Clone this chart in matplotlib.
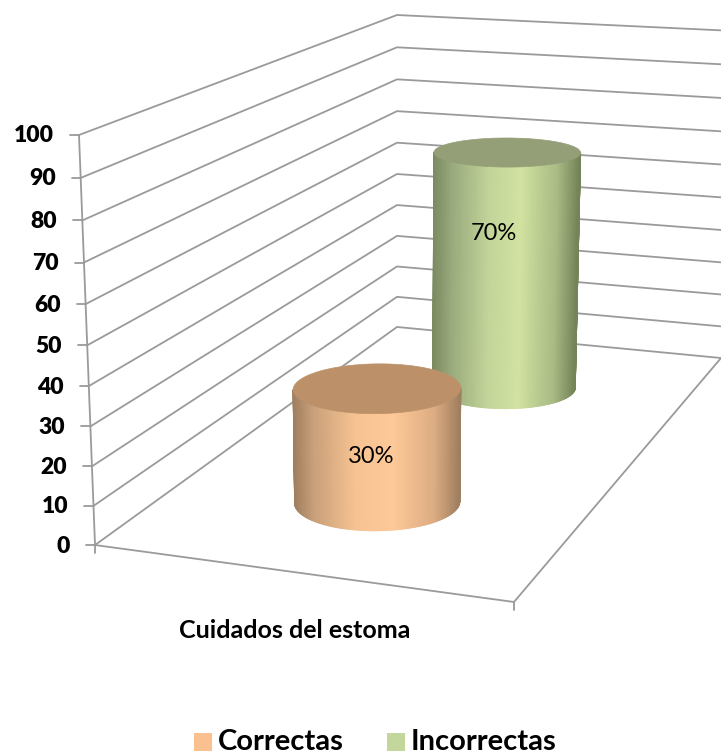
import numpy as np
import matplotlib
matplotlib.use("Agg")
import matplotlib.pyplot as plt
from matplotlib.collections import PolyCollection
from matplotlib.colors import LinearSegmentedColormap
from matplotlib.patches import Polygon, Rectangle

# Chart values
category = "Cuidados del estoma"
series_names = ["Correctas", "Incorrectas"]
series_values = [30, 70]
value_labels = ["30%", "70%"]
axis_ticks = [0, 10, 20, 30, 40, 50, 60, 70, 80, 90, 100]

# Scene layout: box corners (width u, depth v, height w) and their place on the canvas
W, H = 721, 755
box_corners = np.array([
    [0, 0, 0], [1, 0, 0], [0, 1, 0], [1, 1, 0],
    [0, 0, 1], [0, 1, 1],
], float)
canvas_corners = np.array([
    [95, 545], [514, 602], [397, 327], [721, 358],
    [79, 135], [397, 15],
], float)


def fit_camera(world, image):
    """Least-squares projective camera from world/image correspondences."""
    rows, rhs = [], []
    for (x, y, z), (px, py) in zip(world, image):
        rows.append([x, y, z, 1, 0, 0, 0, 0, -px * x, -px * y, -px * z])
        rhs.append(px)
        rows.append([0, 0, 0, 0, x, y, z, 1, -py * x, -py * y, -py * z])
        rhs.append(py)
    sol = np.linalg.lstsq(np.array(rows), np.array(rhs), rcond=None)[0]
    return np.append(sol, 1.0).reshape(3, 4)


camera = fit_camera(box_corners, canvas_corners)
axis_max = max(axis_ticks)


def project(u, v, value):
    """Map box width/depth and a data value to canvas coordinates."""
    u, v, value = np.broadcast_arrays(u, v, value)
    pts = np.stack([u, v, value / axis_max, np.ones(u.shape)])
    x, y, s = camera @ pts
    return x / s, y / s


# Cylinder placement and shading
centers_uv = [(0.5, 0.25), (0.497, 0.755)]
radius_u, radius_v = 0.197, 0.102
label_height = [0.40, 0.66]
label_shift = [-6, -12]
grid_color = "#9a9a9a"
shade_maps = [
    LinearSegmentedColormap.from_list("orange_body", [
        (0.0, "#9f7e5f"), (0.12, "#c9a07a"), (0.38, "#f8c392"),
        (0.6, "#fec998"), (0.85, "#dcac82"), (1.0, "#9f7f60")]),
    LinearSegmentedColormap.from_list("green_body", [
        (0.0, "#7b8a60"), (0.12, "#98a97c"), (0.38, "#c2d498"),
        (0.6, "#d1e2a1"), (0.85, "#a9ba84"), (1.0, "#748358")]),
]
cap_colors = ["#bc9169", "#949f78"]
swatch_colors = ["#fac090", "#c3d69b"]

plt.rcParams["font.family"] = ["Lato", "DejaVu Sans"]
fig = plt.figure(figsize=(W / 100, H / 100), dpi=100)
ax = fig.add_axes([0, 0, 1, 1])
ax.set_xlim(0, W)
ax.set_ylim(H, 0)
ax.axis("off")

# Gridlines on the side wall and the back wall
line_kw = dict(color=grid_color, lw=1.3, solid_capstyle="round", zorder=1)
for t in axis_ticks:
    x, y = project([0, 0, 1], [0, 1, 1], [t, t, t])
    ax.plot(x, y, **line_kw)
    tx, ty = project(0, 0, t)
    ax.plot([tx - 9, tx], [ty, ty], **line_kw)
    ax.text(tx - 25, ty + 1, str(t), ha="right", va="center",
            fontsize=16.5, fontweight="heavy", color="black")

# Value axis and floor edges
x, y = project([0, 0], [0, 0], [0, axis_max])
ax.plot(x, y, **line_kw)
x, y = project([0, 1, 1], [0, 0, 1], [0, 0, 0])
ax.plot(x, y, **line_kw)
for u in (0, 1):
    tx, ty = project(u, 0, 0)
    ax.plot([tx, tx], [ty, ty + 8], **line_kw)


def draw_cylinder(center, value, cmap, cap, z):
    theta = np.linspace(0, 2 * np.pi, 361)
    uu = center[0] + radius_u * np.cos(theta)
    vv = center[1] + radius_v * np.sin(theta)
    bx, by = project(uu, vv, 0)
    tx, ty = project(uu, vv, value)

    # Visible side: the arc of the base between its leftmost and rightmost points
    i_left, i_right = np.argmin(bx[:-1]), np.argmax(bx[:-1])
    n = 360
    steps = (i_right - i_left) % n
    if by[(i_left + steps // 2) % n] < by[(i_right + (n - steps) // 2) % n]:
        idx = [(i_left - k) % n for k in range((n - steps) % n + 1)]
    else:
        idx = [(i_left + k) % n for k in range(steps + 1)]

    strips, shades = [], []
    span = bx[idx[-1]] - bx[idx[0]]
    for a, b in zip(idx[:-1], idx[1:]):
        strips.append([(bx[a], by[a]), (bx[b], by[b]), (tx[b], ty[b]), (tx[a], ty[a])])
        shades.append(((bx[a] + bx[b]) / 2 - bx[idx[0]]) / span)
    colors = cmap(np.array(shades))
    ax.add_collection(PolyCollection(strips, facecolors=colors, edgecolors=colors,
                                     linewidths=0.8, zorder=z))
    ax.add_patch(Polygon(np.column_stack([tx, ty]), closed=True, facecolor=cap,
                         edgecolor=cap, lw=0.5, zorder=z + 0.1))


# The nearer cylinder is drawn last so it overlaps the farther one
for i in (1, 0):
    draw_cylinder(centers_uv[i], series_values[i], shade_maps[i], cap_colors[i], 3 + (1 - i))
    lx, ly = project(centers_uv[i][0], centers_uv[i][1], series_values[i] * label_height[i])
    ax.text(lx + label_shift[i], ly, value_labels[i], ha="center", va="center",
            fontsize=17, color="black", zorder=6)

# Category label
ax.text(295, 631, category, ha="center", va="center", fontsize=18,
        fontweight="bold", color="black")

# Legend
legend_x = [194, 387]
for x0, name, color in zip(legend_x, series_names, swatch_colors):
    ax.add_patch(Rectangle((x0, 733), 18, 18, facecolor=color, edgecolor="none"))
    ax.text(x0 + 24, 742, name, ha="left", va="center", fontsize=21,
            fontweight="bold", color="black")

fig.savefig("out.png", dpi=100, facecolor="white")
